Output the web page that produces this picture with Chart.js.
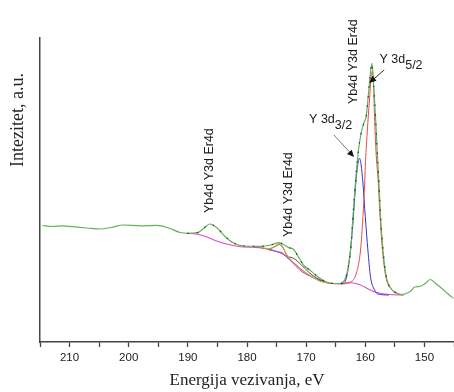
<!DOCTYPE html>
<html>
<head>
<meta charset="utf-8">
<script src="https://cdn.jsdelivr.net/npm/chart.js@4/dist/chart.umd.min.js"></script>
<style>
  html, body { margin: 0; padding: 0; background: #fff; }
  canvas { display: block; }
</style>
</head>
<body>
<canvas id="c" width="454" height="392"></canvas>
<script>
// ---- Data (binding energy in eV, intensity in arbitrary units) ----
const measuredEv = [214.6,213.0,211.2,209.4,207.0,204.8,203.0,200.9,198.0,195.2,193.0,191.3,190.1,188.4,187.3,186.3,185.0,183.8,182.2,180.5,177.7,176.0,174.6,173.7,172.9,172.1,171.2,170.3,169.5,168.4,167.2,165.8,164.3,163.5,162.9,162.4,162.1,161.7,161.4,161.15,160.7,160.35,160.1,159.85,159.56,159.29,158.88,158.61,158.27,158.0,157.69,157.42,157.01,156.45,155.6,155.0,153.9,153.35,152.4,151.65,150.8,149.95,149.0,148.2,147.1,146.0,145.13];
const measuredInt = [116.5,115.5,116.2,115.3,114,113,114.5,117,116.2,116.7,113.5,109.5,108.7,109.3,113.7,118,113.7,106,98.7,96,95.7,97,99.3,97,94.3,92.5,84,76,72.5,67,62,58.7,58.5,62,74,97,124,157,177,192,209,217,221,225.3,242,259,278.7,259,225.3,192,159,125.3,92,65.3,53,50,47.5,48,50.5,55,55.5,58,62.5,59,53.7,48,43.7];

const backgroundEv = [190.1,188.4,187.0,185.6,183.3,181.1,179.0,177.7,176.3,175.4,173.7,172.0,170.3,168.6,166.3,164.1,162.4,160.8,159.5,158.5,156.8,154.0,153.4];
const backgroundInt = [108.7,107.7,105.5,102,97.7,95.3,94.7,94.3,92.7,91.3,87,78.7,70.3,63.7,59.3,58,59.3,57,53,50.3,48,47,47.5];

const y3d32Ev = [164.1,163.3,162.7,162.1,161.7,161.3,160.98,160.7,160.4,160.0,159.56,159.12,158.44,157.86,156.0];
const y3d32Int = [58,62,82,118,152,176,183.7,177,159,125.3,92,65.3,52,48,47];

const y3d52Ev = [163.5,162.4,161.5,160.8,160.4,160.1,160.0,159.68,159.29,158.88,158.61,158.44,158.2,157.8,157.5,157.1,156.55,155.4,154.5,153.5];
const y3d52Int = [59,60.3,69,92,125.3,159,175.3,209,242,270.3,259,225.3,192,159,125.3,92,66,51.5,48,47];

const compYellowEv = [177.7,176.3,175.4,174.6,173.9,173.47,172.6,171.78,170.9,170.08,168.9,167.82,166.1];
const compYellowInt = [94.3,93.5,95.5,98.5,95,89.3,82.5,76,72,69.3,65,61,58.7];

const compOliveEv = [177.7,176.3,175.4,174.5,173.8,173.2,172.35,171.5,170.3,169.0,167.5,166.1];
const compOliveInt = [94.3,93,95,97.5,93,86,84.3,81,74,67,62,58.7];

const compPurpleEv = [176.3,175.0,174.0,173.47,172.6,171.78,170.66,169.5,168.0,166.1];
const compPurpleInt = [92.2,90.5,89,86,81,76,70,66.5,62,58.7];

// fit envelope range (drawn as dotted line over the measured spectrum)
const fitRange = [190.5, 153.5];

const xTickLabels = [150,160,170,180,190,200,210];
const peakLabel = "Yb4d Y3d Er4d";

// ---- helpers ----
function pts(xs, ys) { return xs.map((x, i) => ({ x: x, y: ys[i] })); }
const fitPts = pts(measuredEv, measuredInt).filter(p => p.x <= fitRange[0] && p.x >= fitRange[1]);

// annotation anchors in data coordinates
const annotations = {
  vertical: [
    { ev: 186.3, int: 129 },
    { ev: 172.9, int: 105 },
    { ev: 162.05, int: 238 }
  ],
  y32: { ev: 169.5, int: 219, from: [165.3, 207], to: [161.9, 185] },
  y52: { ev: 157.6, int: 279, from: [156.8, 272], to: [159.35, 259] }
};

const SANS = '"Liberation Sans", Arial, sans-serif';
const SERIF = '"Liberation Serif", "Times New Roman", serif';

function arrow(ctx, x1, y1, x2, y2, lineColor) {
  ctx.save();
  ctx.strokeStyle = lineColor;
  ctx.lineWidth = 1;
  const a = Math.atan2(y2 - y1, x2 - x1);
  const hl = 7, hw = 3.2;
  ctx.beginPath();
  ctx.moveTo(x1, y1);
  ctx.lineTo(x2 - Math.cos(a) * hl * 0.8, y2 - Math.sin(a) * hl * 0.8);
  ctx.stroke();
  ctx.fillStyle = '#111';
  ctx.beginPath();
  ctx.moveTo(x2, y2);
  ctx.lineTo(x2 - hl * Math.cos(a) + hw * Math.sin(a), y2 - hl * Math.sin(a) - hw * Math.cos(a));
  ctx.lineTo(x2 - hl * Math.cos(a) - hw * Math.sin(a), y2 - hl * Math.sin(a) + hw * Math.cos(a));
  ctx.closePath();
  ctx.fill();
  ctx.restore();
}

const decor = {
  id: 'decor',
  afterDraw(chart) {
    const ctx = chart.ctx;
    const xs = chart.scales.x, ys = chart.scales.y;
    const ca = chart.chartArea;
    ctx.save();
    ctx.fillStyle = '#1a1a1a';
    ctx.font = '12.5px ' + SANS;
    ctx.textBaseline = 'middle';
    ctx.textAlign = 'left';
    annotations.vertical.forEach(a => {
      const px = xs.getPixelForValue(a.ev), py = ys.getPixelForValue(a.int);
      ctx.save();
      ctx.translate(px, py);
      ctx.rotate(-Math.PI / 2);
      ctx.fillText(peakLabel, 0, 0);
      ctx.restore();
    });
    function subLabel(a, sub) {
      const px = xs.getPixelForValue(a.ev), py = ys.getPixelForValue(a.int);
      ctx.textBaseline = 'alphabetic';
      ctx.font = '12.5px ' + SANS;
      ctx.fillText('Y 3d', px, py);
      const w = ctx.measureText('Y 3d').width;
      ctx.fillText(sub, px + w, py + 6);
    }
    subLabel(annotations.y32, '3/2');
    subLabel(annotations.y52, '5/2');
    const A1 = annotations.y32, A2 = annotations.y52;
    arrow(ctx, xs.getPixelForValue(A1.from[0]), ys.getPixelForValue(A1.from[1]),
               xs.getPixelForValue(A1.to[0]), ys.getPixelForValue(A1.to[1]), '#777');
    arrow(ctx, xs.getPixelForValue(A2.from[0]), ys.getPixelForValue(A2.from[1]),
               xs.getPixelForValue(A2.to[0]), ys.getPixelForValue(A2.to[1]), '#333');
    ctx.fillStyle = '#222';
    ctx.font = '17px ' + SERIF;
    ctx.textAlign = 'center';
    ctx.textBaseline = 'middle';
    ctx.fillText('Energija vezivanja, eV', (ca.left + ca.right) / 2, ca.bottom + 39);
    ctx.save();
    ctx.font = '18px ' + SERIF;
    ctx.translate(ca.left - 22, ys.getPixelForValue(222));
    ctx.rotate(-Math.PI / 2);
    ctx.fillText('Intezitet, a.u.', 0, 0);
    ctx.restore();
    ctx.restore();
  }
};

const lineBase = { pointRadius: 0, fill: false, cubicInterpolationMode: 'monotone' };

new Chart(document.getElementById('c'), {
  type: 'line',
  data: {
    datasets: [
      Object.assign({ label: 'fit', data: fitPts, borderColor: '#333333', borderWidth: 1.2, borderDash: [1.5, 8], order: 0 }, lineBase),
      Object.assign({ label: 'measured', data: pts(measuredEv, measuredInt), borderColor: '#62b457', borderWidth: 1.2, order: 1 }, lineBase),
      Object.assign({ label: 'Y 3d5/2', data: pts(y3d52Ev, y3d52Int), borderColor: '#ec4a4a', borderWidth: 1, order: 2 }, lineBase),
      Object.assign({ label: 'Y 3d3/2', data: pts(y3d32Ev, y3d32Int), borderColor: '#3434d8', borderWidth: 1, order: 3 }, lineBase),
      Object.assign({ label: 'c1', data: pts(compYellowEv, compYellowInt), borderColor: '#d8b040', borderWidth: 1, order: 4 }, lineBase),
      Object.assign({ label: 'c2', data: pts(compOliveEv, compOliveInt), borderColor: '#4a5530', borderWidth: 1, order: 5 }, lineBase),
      Object.assign({ label: 'c3', data: pts(compPurpleEv, compPurpleInt), borderColor: '#8a50c8', borderWidth: 1, order: 6 }, lineBase),
      Object.assign({ label: 'background', data: pts(backgroundEv, backgroundInt), borderColor: '#e24ac4', borderWidth: 1.1, order: 7 }, lineBase)
    ]
  },
  options: {
    responsive: false,
    animation: false,
    devicePixelRatio: 1,
    layout: { padding: { left: 40, top: 38, right: 0, bottom: 0 } },
    plugins: { legend: { display: false }, tooltip: { enabled: false } },
    scales: {
      x: {
        type: 'linear',
        reverse: true,
        min: 145,
        max: 215,
        afterFit(s) { s.height = 50; },
        afterBuildTicks(s) {
          const t = [];
          for (let v = 145; v <= 215; v += 5) t.push({ value: v });
          s.ticks = t;
        },
        ticks: {
          autoSkip: false,
          maxRotation: 0,
          padding: 4,
          color: '#222',
          font: { family: SANS, size: 11.5 },
          callback: (v) => xTickLabels.includes(v) ? String(v) : ''
        },
        grid: { display: true, drawOnChartArea: false, tickLength: 5, tickColor: '#444', tickWidth: 1.3 },
        border: { display: true, color: '#444', width: 1.5 }
      },
      y: {
        min: 0,
        max: 304,
        afterFit(s) { s.width = 0; },
        ticks: { display: false },
        grid: { display: false },
        border: { display: true, color: '#444', width: 1.5 }
      }
    }
  },
  plugins: [decor]
});
</script>
</body>
</html>
